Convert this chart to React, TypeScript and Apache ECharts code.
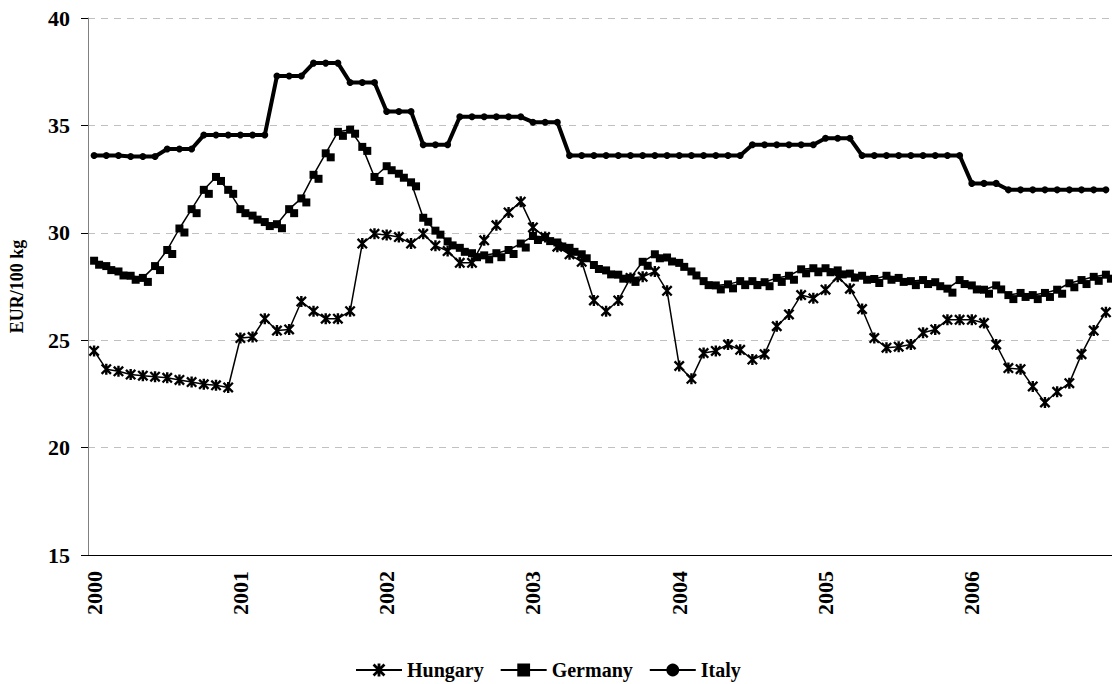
import React, { useEffect, useRef } from "react";
import * as echarts from "echarts";

const years = ["2000", "2001", "2002", "2003", "2004", "2005", "2006"];
const monthNums = ["01", "02", "03", "04", "05", "06", "07", "08", "09", "10", "11", "12"];
const categories: string[] = [];
years.forEach((y) => monthNums.forEach((m) => categories.push(`${y}-${m}`)));

const yTicks = { min: 15, max: 40, step: 5 };

const hungary = [
  24.5, 23.65, 23.55, 23.4, 23.35, 23.3, 23.25, 23.15, 23.05, 22.95, 22.9, 22.8,
  25.1, 25.15, 26.0, 25.45, 25.5, 26.8, 26.35, 26.0, 26.0, 26.35, 29.5, 29.95,
  29.9, 29.8, 29.5, 29.95, 29.4, 29.15, 28.6, 28.6, 29.65, 30.35, 30.95, 31.45,
  30.25, 29.8, 29.35, 29.0, 28.65, 26.85, 26.35, 26.85, 27.9, 27.95, 28.2, 27.3,
  23.8, 23.2, 24.4, 24.5, 24.8, 24.55, 24.1, 24.35, 25.65, 26.2, 27.1, 26.95,
  27.35, 27.95, 27.4, 26.45, 25.1, 24.65, 24.7, 24.8, 25.35, 25.5, 25.95, 25.95,
  25.95, 25.8, 24.8, 23.7, 23.65, 22.85, 22.1, 22.6, 23.0, 24.35, 25.45, 26.3,
];

const germany = [
  28.7, 28.45, 28.2, 28.0, 27.9, 28.45, 29.2, 30.2, 31.1, 32.0, 32.6, 32.0,
  31.1, 30.8, 30.5, 30.4, 31.1, 31.6, 32.7, 33.7, 34.7, 34.8, 34.0, 32.6,
  33.1, 32.75, 32.35, 30.7, 30.1, 29.6, 29.3, 29.05, 28.95, 29.05, 29.2, 29.5,
  29.85, 29.8, 29.55, 29.3, 29.0, 28.5, 28.25, 28.05, 27.9, 28.65, 29.0, 28.85,
  28.6, 28.2, 27.75, 27.55, 27.6, 27.75, 27.75, 27.7, 27.9, 28.0, 28.3, 28.35,
  28.35, 28.25, 28.1, 28.0, 27.85, 28.0, 27.9, 27.75, 27.8, 27.7, 27.4, 27.8,
  27.55, 27.35, 27.55, 27.1, 27.2, 27.1, 27.2, 27.35, 27.65, 27.8, 27.95, 28.05,
];

const italy = [
  33.6, 33.6, 33.6, 33.55, 33.55, 33.55, 33.9, 33.9, 33.9, 34.55, 34.55, 34.55,
  34.55, 34.55, 34.55, 37.3, 37.3, 37.3, 37.9, 37.9, 37.9, 37.0, 37.0, 37.0,
  35.65, 35.65, 35.65, 34.1, 34.1, 34.1, 35.4, 35.4, 35.4, 35.4, 35.4, 35.4,
  35.15, 35.15, 35.15, 33.6, 33.6, 33.6, 33.6, 33.6, 33.6, 33.6, 33.6, 33.6,
  33.6, 33.6, 33.6, 33.6, 33.6, 33.6, 34.1, 34.1, 34.1, 34.1, 34.1, 34.1,
  34.4, 34.4, 34.4, 33.6, 33.6, 33.6, 33.6, 33.6, 33.6, 33.6, 33.6, 33.6,
  32.3, 32.3, 32.3, 32.0, 32.0, 32.0, 32.0, 32.0, 32.0, 32.0, 32.0, 32.0,
];

const starPath =
  "path://M3.9 0L6.1 0L6.1 10L3.9 10Z M1.5 0L10 8.5L8.5 10L0 1.5Z M8.5 0L10 1.5L1.5 10L0 8.5Z";

const FONT = "'Liberation Serif', 'Times New Roman', serif";

export default function App() {
  const ref = useRef<HTMLDivElement>(null);

  useEffect(() => {
    if (!ref.current) return;
    const chart = echarts.init(ref.current, undefined, { renderer: "svg" });
    const yearTick = (i: number) => i % 12 === 0;
    chart.setOption({
      animation: false,
      backgroundColor: "#ffffff",
      textStyle: { fontFamily: FONT },
      grid: { left: 86, top: 18, width: 1030.5, height: 537, containLabel: false },
      legend: {
        left: 355,
        top: 660,
        padding: 0,
        itemWidth: 46,
        itemHeight: 16,
        itemGap: 16,
        textStyle: { fontFamily: FONT, fontWeight: 700, fontSize: 20, color: "#000" },
        data: ["Hungary", "Germany", "Italy"],
      },
      xAxis: {
        type: "category",
        data: categories,
        boundaryGap: true,
        axisLine: { lineStyle: { color: "#000", width: 1 } },
        axisTick: { interval: yearTick, length: 6, lineStyle: { color: "#000" } },
        axisLabel: {
          interval: yearTick,
          rotate: 90,
          margin: 16,
          formatter: (v: string) => v.slice(0, 4),
          fontFamily: FONT,
          fontWeight: 700,
          fontSize: 22,
          color: "#000",
        },
        splitLine: { show: false },
      },
      yAxis: {
        type: "value",
        min: yTicks.min,
        max: yTicks.max,
        interval: yTicks.step,
        name: "EUR/100 kg",
        nameLocation: "middle",
        nameGap: 62,
        nameTextStyle: { fontFamily: FONT, fontWeight: 700, fontSize: 18, color: "#000" },
        axisLine: { show: true, lineStyle: { color: "#808080", width: 1 } },
        axisTick: { show: true, length: 7, lineStyle: { color: "#000" } },
        axisLabel: {
          margin: 18,
          fontFamily: FONT,
          fontWeight: 700,
          fontSize: 22,
          color: "#000",
        },
        splitLine: { show: true, lineStyle: { color: "#c0c0c0", type: [7, 6], width: 1 } },
      },
      series: [
        {
          name: "Hungary",
          type: "line",
          data: hungary,
          symbol: starPath,
          symbolSize: 11,
          showAllSymbol: true,
          lineStyle: { color: "#000", width: 1.5 },
          itemStyle: { color: "#000" },
        },
        {
          name: "Germany",
          type: "line",
          data: germany,
          symbol: "rect",
          symbolSize: 8,
          showAllSymbol: true,
          lineStyle: { color: "#000", width: 1.5 },
          itemStyle: {
            color: "#000",
            shadowColor: "#000",
            shadowBlur: 0,
            shadowOffsetX: 5,
            shadowOffsetY: 4,
          },
        },
        {
          name: "Italy",
          type: "line",
          data: italy,
          symbol: "circle",
          symbolSize: 7,
          showAllSymbol: true,
          lineStyle: { color: "#000", width: 4 },
          itemStyle: { color: "#000" },
        },
      ],
    });
    return () => chart.dispose();
  }, []);

  return (
    <div
      ref={ref}
      style={{ position: "fixed", left: 0, top: 0, width: 1112, height: 684, background: "#fff" }}
    />
  );
}
